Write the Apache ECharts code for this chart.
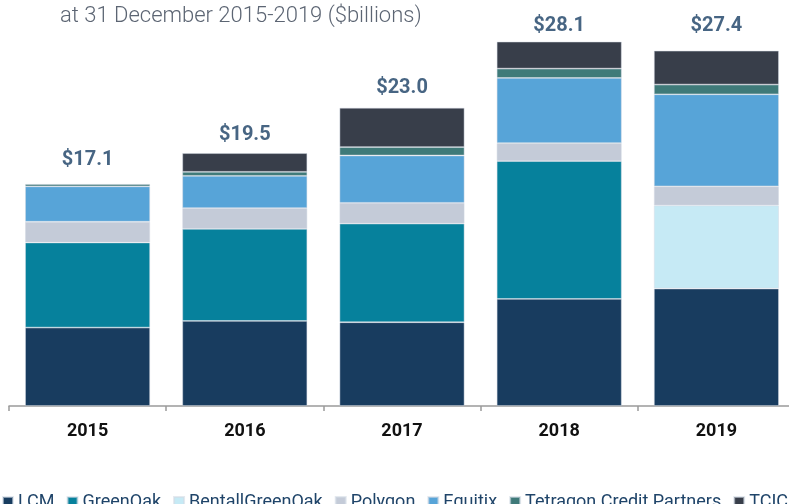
<!DOCTYPE html>
<html lang="en">

<head>
    <meta charset="UTF-8">
    <title>Stacked AUM</title>
    <script src="https://cdn.jsdelivr.net/npm/echarts@6/dist/echarts.min.js"></script>
    <style>
        body { margin: 0; background: #fff; }
        #main { width: 789px; height: 504px; }
    </style>
</head>

<body>
    <div id="main"></div>

    <script>
        // data ($billions)
        const years = ['2015', '2016', '2017', '2018', '2019'];
        const lcm = [6.05, 6.56, 6.46, 8.26, 9.06];
        const greenOak = [6.56, 7.10, 7.61, 10.63, 0];
        const bentallGreenOak = [0, 0, 0, 0, 6.41];
        const polygon = [1.60, 1.60, 1.60, 1.39, 1.47];
        const equitix = [2.73, 2.49, 3.65, 5.02, 7.10];
        const tetragon = [0.18, 0.31, 0.65, 0.72, 0.75];
        const tcico = [0, 1.44, 3.03, 2.08, 2.61];
        const totals = [17.1, 19.5, 23.0, 28.1, 27.4];

        const names = ['LCM', 'GreenOak', 'BentallGreenOak', 'Polygon', 'Equitix', 'Tetragon Credit Partners', 'TCICO'];
        const values = [lcm, greenOak, bentallGreenOak, polygon, equitix, tetragon, tcico];
        const colors = ['#183c5f', '#06819c', '#c6eaf5', '#c4cbd8', '#57a4d8', '#3f7a79', '#383e4a'];

        const myChart = echarts.init(document.getElementById('main'));

        const series = names.map((n, i) => ({
            name: n,
            type: 'bar',
            stack: 'aum',
            barWidth: 125,
            data: values[i].map(v => v === 0 ? '-' : v),
            itemStyle: {
                color: colors[i],
                borderColor: 'rgba(210,218,228,0.6)',
                borderWidth: 0.8
            }
        }));

        // totals above each bar (gap above the bar differs a little per bar in the original)
        const labelGap = [14, 8, 9, 5, 14];
        series.push({
            name: 'total',
            type: 'scatter',
            data: totals.map((t, i) => ({ value: t, label: { distance: labelGap[i] } })),
            symbolSize: 1,
            silent: true,
            itemStyle: { color: 'rgba(0,0,0,0)' },
            label: {
                show: true,
                position: 'top',
                formatter: p => '$' + p.value.toFixed(1),
                color: '#193f64',
                fontFamily: 'Roboto',
                fontWeight: 'bold',
                fontSize: 20
            }
        });

        const option = {
            animation: false,
            color: colors,
            title: {
                text: 'at 31 December 2015-2019 ($billions)',
                left: 55,
                top: 0,
                textStyle: {
                    color: '#5c6573',
                    fontFamily: 'Roboto',
                    fontWeight: 300,
                    fontSize: 22
                }
            },
            legend: {
                data: names,
                left: -3,
                top: 488,
                width: 1200,
                itemWidth: 10,
                itemHeight: 10,
                itemGap: 12,
                icon: 'rect',
                textStyle: {
                    color: '#1f4469',
                    fontFamily: 'Roboto',
                    fontSize: 18
                }
            },
            grid: {
                left: 9,
                top: 17,
                width: 786,
                bottom: 98,
                outerBoundsMode: 'none'
            },
            xAxis: {
                type: 'category',
                data: years,
                axisLine: { lineStyle: { color: '#9a9a9a', width: 1.5 } },
                axisTick: { show: true, length: 5, lineStyle: { color: '#9a9a9a', width: 1.5 } },
                axisLabel: {
                    margin: 16,
                    color: '#111',
                    fontFamily: 'Roboto',
                    fontWeight: 'bold',
                    fontSize: 18
                }
            },
            yAxis: {
                type: 'value',
                min: 0,
                max: 30,
                show: false
            },
            series: series
        };

        myChart.setOption(option);
    </script>
</body>

</html>
